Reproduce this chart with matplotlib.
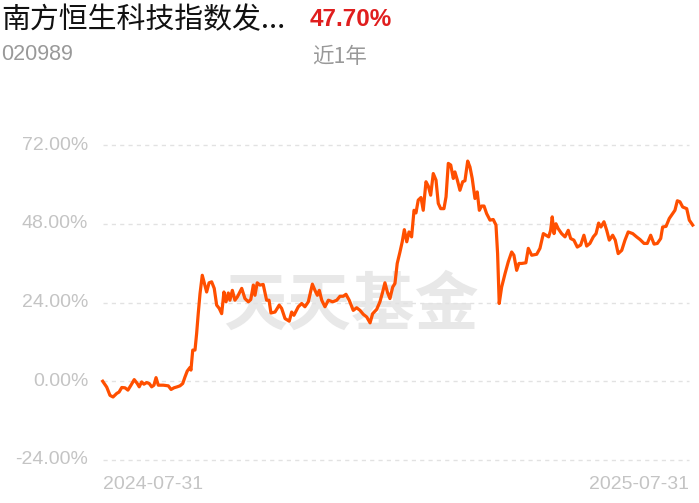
import matplotlib

matplotlib.use("Agg")
import matplotlib.pyplot as plt

plt.rcParams["font.family"] = ["Liberation Sans", "Noto Sans CJK SC", "DejaVu Sans"]

# Fund header
FUND_NAME = "南方恒生科技指数发..."
FUND_CODE = "020989"
RETURN_TEXT = "47.70%"
PERIOD_TEXT = "近1年"

# Cumulative return curve, days since 2024-07-31 vs return in %
days = [
    0, 2.5, 4.5, 6.4, 8.7, 10.1, 11.8, 13.8, 15.6, 17.5, 19.5, 21.4, 22.6, 24.1,
    25.5, 27.2, 28.8, 30.3, 31.7, 33, 34.4, 37.5, 40.6, 42.3, 44.1, 46.1, 47.8,
    49.5, 50.9, 52.3, 54, 54.6, 55.7, 57.1, 58.1, 59.1, 60.2, 61.6, 62.9, 64.3,
    65.8, 67.4, 69, 70.5, 72.1, 73.6, 75, 76.3, 77.7, 78.7, 80.2, 81.8, 83.3,
    86, 88, 90.1, 91.6, 93.2, 94.2, 95.6, 97.3, 99.3, 101.4, 102.9, 104.1,
    106.6, 109.2, 110.7, 112.8, 115.4, 116.9, 118.3, 121, 123.1, 125.1, 127.2,
    129.7, 131.3, 132.8, 134, 135.5, 137.5, 139.6, 142.3, 144.8, 146.8, 148.8,
    150.5, 152.5, 155, 157.1, 159.2, 161.2, 163.3, 165.4, 167, 169.5, 171.5,
    173.2, 174.6, 176.1, 177.7, 179.4, 180.8, 182.2, 183.9, 185.3, 186.6,
    188.1, 189.5, 191.1, 192.6, 193.8, 195.2, 196.9, 198.3, 200, 201.4, 202.9,
    204.5, 206.2, 207.6, 209.1, 211.1, 212.4, 213.8, 215.3, 216.9, 217.9,
    219.4, 221, 222.7, 224.1, 225.8, 227.2, 228.6, 230.3, 231.7, 233, 234.4,
    235.9, 237.5, 239.6, 241.6, 243.3, 244.3, 245.3, 246.8, 248.9, 250.9, 253,
    254.4, 256.1, 257.5, 259.2, 261.8, 263.3, 265.4, 268.5, 270.5, 272.6,
    274.3, 275.9, 277.1, 278.1, 279.2, 280.4, 281.8, 283.9, 286, 288, 289.5,
    291.5, 293.6, 295.7, 297.7, 299.4, 301.4, 303.5, 305.2, 306.8, 308.2,
    310.1, 311.8, 313.4, 315.5, 317.1, 318.9, 321.1, 323.1, 325.1, 327.9,
    330.3, 332.4, 334.9, 336.9, 339, 341.1, 343.1, 345.2, 346.4, 348.5, 350.5,
    352.6, 354, 355.5, 357.1, 358.8, 361.3, 362.9, 365,
]
returns = [
    0, -1.8, -4.3, -4.8, -3.7, -3.3, -1.9, -2, -2.7, -1.2, 0.5, -0.7, -1.7,
    -0.2, -0.9, -0.4, -0.7, -1.7, -1.2, 1.1, -1.2, -1.2, -1.4, -2.5, -2, -1.7,
    -1.4, -0.7, 1.3, 3.1, 4.2, 3.4, 9.5, 9.5, 14.5, 20.6, 26.7, 32.3, 29.8,
    27.2, 30, 30.3, 28.3, 23.2, 22.2, 20.6, 27.2, 24.2, 26.9, 24.7, 27.7, 24.7,
    25.7, 28.3, 25.2, 24.2, 24.9, 29.3, 26.2, 30, 29.3, 29.5, 24.7, 24.7, 20.8,
    21.1, 23.2, 22.2, 19.1, 18.3, 21.1, 20.1, 22.7, 23.7, 22.7, 24.2, 29.6,
    27.7, 26.2, 27.7, 24.7, 22.7, 24.7, 24.2, 24.7, 25.9, 25.9, 26.5, 24.7,
    21.6, 22.4, 21.6, 20.4, 19.6, 17.8, 20.6, 21.9, 24.2, 27.2, 30, 27.2,
    25.2, 28.7, 29.8, 35.9, 39.4, 42.5, 46.2, 42.5, 45.5, 44, 52.1, 51.3, 55.2,
    56, 52.1, 60.8, 59.5, 56.7, 63.3, 61.3, 54.2, 52.6, 52.6, 56.2, 66.4, 65.9,
    61.8, 63.8, 61.3, 58.2, 60.8, 61.1, 67.1, 65.3, 61.8, 55.7, 57.7, 52.1,
    53.4, 53.4, 51.1, 49.1, 49.3, 47.6, 38.9, 23.7, 28.7, 32.8, 36.4, 39.4,
    38.4, 33.8, 35.9, 35.9, 36.1, 40.5, 38.4, 38.7, 40.5, 45, 44.5, 44, 46,
    50.1, 45, 48, 46.5, 45, 44, 46, 43.5, 43, 40.9, 41.5, 44.5, 41.2, 42, 44,
    45, 48.2, 47, 48.6, 46, 43, 44.5, 43, 38.9, 39.9, 43, 45.5, 45, 44, 43.2,
    42, 42, 44.5, 41.8, 42, 43.5, 47, 47.2, 49.6, 51.1, 52.1, 55, 54.7, 53.1,
    52.6, 49.1, 47.6,
]

y_ticks = [-24, 0, 24, 48, 72]
x_labels = ["2024-07-31", "2025-07-31"]

LINE_COLOR = "#ff4f00"
TICK_COLOR = "#c4c4c4"
GRID_COLOR = "#e2e2e2"

fig = plt.figure(figsize=(6.99, 5.03), dpi=100)
ax = fig.add_axes([102.7 / 699, 1 - 460 / 503, 590 / 699, 315 / 503])
ax.set_xlim(0, 365)
ax.set_ylim(-24, 72)
for side in ax.spines.values():
    side.set_visible(False)
ax.set_xticks([])
ax.set_yticks([])

for val in y_ticks:
    ax.plot([0, 363], [val, val], color=GRID_COLOR, linewidth=1.0,
            linestyle=(0, (3, 3)), clip_on=False, zorder=1)
    ax.text(-9, val, f"{val:.2f}%", ha="right", va="center",
            fontsize=14, color=TICK_COLOR)

# watermark
ax.text(0.42, 0.49, "天天基金", transform=ax.transAxes, ha="center", va="center",
        fontsize=46, color="#e8e8e8", fontweight="bold",
        family=["Noto Sans CJK SC"], zorder=0)

ax.plot(days, returns, color=LINE_COLOR, linewidth=2.3, solid_joinstyle="round",
        zorder=3, clip_on=False)

ax.text(0, -31.6, x_labels[0], ha="left", va="center", fontsize=14, color=TICK_COLOR)
ax.text(363, -31.6, x_labels[1], ha="right", va="center", fontsize=14, color=TICK_COLOR)

# header
fig.text(1 / 699, 1 - 20 / 503, FUND_NAME, ha="left", va="center", fontsize=20.8,
         color="#111111", family=["Noto Sans CJK SC", "DejaVu Sans"])
fig.text(310 / 699, 1 - 20 / 503, RETURN_TEXT, ha="left", va="center", fontsize=17.5,
         color="#e01e1e", fontweight="bold")
fig.text(1 / 699, 1 - 55 / 503, FUND_CODE, ha="left", va="center", fontsize=15.5,
         color="#999999")
fig.text(312 / 699, 1 - 57 / 503, PERIOD_TEXT, ha="left", va="center", fontsize=15.5,
         color="#999999", family=["Noto Sans CJK SC", "DejaVu Sans"])

fig.savefig("out.png", dpi=100)
